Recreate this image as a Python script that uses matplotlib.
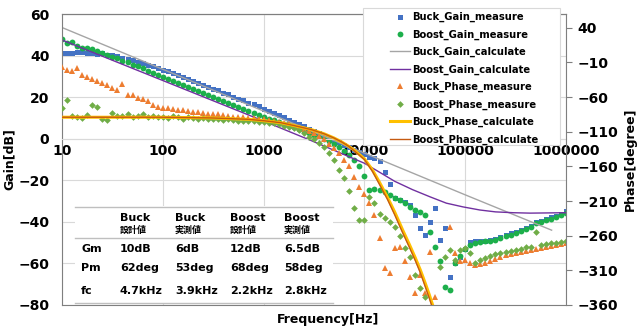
import matplotlib
matplotlib.use("Agg")
import matplotlib.pyplot as plt
import numpy as np
from matplotlib.patches import Rectangle
from matplotlib.lines import Line2D

plt.rcParams['font.family'] = ['DejaVu Sans', 'Noto Sans CJK JP']

# measured sweep frequencies [Hz]
freq = [10, 11.2, 12.6, 14.1, 15.8, 17.8, 20.0, 22.4, 25.1, 28.2, 31.6, 35.5, 39.8, 44.7, 50.1, 56.2, 63.1, 70.8, 79.4, 89.1,
        100, 112, 126, 141, 158, 178, 200, 224, 251, 282, 316, 355, 398, 447, 501, 562, 631, 708, 794, 891,
        1000, 1122, 1259, 1413, 1585, 1778, 1995, 2239, 2512, 2818, 3162, 3548, 3981, 4467, 5012, 5623, 6310, 7079, 7943, 8913,
        10000, 11220, 12589, 14125, 15849, 17783, 19953, 22387, 25119, 28184, 31623, 35481, 39811, 44668, 50119, 56234, 63096, 70795, 79433, 89125,
        100000, 112202, 125893, 141254, 158489, 177828, 199526, 223872, 251189, 281838, 316228, 354813, 398107, 446684, 501187, 562341,
        630957, 707946, 794328, 891251, 1000000]

buck_gain_meas = [41.0, 41.2, 41.0, 41.5, 41.8, 41.3, 41.0, 40.6, 41.2, 40.5, 40.2, 39.6, 39.0, 38.3, 37.7, 37.0, 36.3, 35.5, 34.8, 34.0,
                  33.2, 32.4, 31.5, 30.6, 29.7, 28.8, 27.9, 27.0, 26.0, 25.1, 24.1, 23.2, 22.2, 21.3, 20.3, 19.3, 18.4, 17.4, 16.5, 15.5,
                  14.5, 13.5, 12.5, 11.4, 10.3, 9.2, 8.1, 7.0, 5.9, 4.8, 3.7, 2.6, 1.5, 0.4, -0.7, -1.8, -2.9, -4.0, -5.2, -6.4,
                  -7.5, -8.6, -9.5, -10.5, -15.9, -22.0, -28.7, -29.5, -30.5, -31.9, -36.7, -43.1, -46.3, -40.0, -33.5, -48.7, -43.1, -66.4, -60.0, -56.8,
                  -53.0, -49.5, -49.3, -49.0, -49.0, -48.7, -48.2, -47.5, -46.3, -45.5, -44.8, -44.0, -43.0, -42.0, -40.0, -39.5,
                  -38.7, -37.9, -37.0, -36.0, -35.0]

boost_gain_meas = [47.8, 46.0, 46.7, 44.5, 43.5, 43.8, 43.0, 42.0, 41.4, 40.5, 39.5, 38.6, 37.6, 36.7, 35.7, 34.8, 33.8, 32.8, 31.8, 30.6,
                   29.5, 28.5, 27.6, 26.6, 25.7, 24.7, 23.8, 22.8, 21.9, 20.9, 20.0, 19.0, 18.1, 17.1, 16.2, 15.2, 14.3, 13.3, 12.4, 11.4,
                   10.5, 9.6, 8.8, 8.0, 7.2, 6.4, 5.5, 4.6, 3.7, 2.8, 1.9, 1.0, 0.0, -1.2, -2.5, -4.0, -5.8, -8.0, -10.0, -13.0,
                   -18.0, -24.7, -24.3, -24.7, -25.5, -27.1, -28.7, -29.5, -30.8, -32.7, -34.3, -35.1, -36.7, -45.0, -52.0, -59.0, -71.5, -73.0, -60.0, -56.5,
                   -53.0, -51.0, -50.0, -49.5, -49.3, -49.0, -48.5, -47.8, -47.0, -46.2, -45.5, -44.6, -43.6, -42.5, -40.5, -40.0,
                   -39.2, -38.4, -37.6, -36.6, -35.5]

buck_phase_meas = [-17, -21, -22, -18, -28, -31, -34, -37, -39, -43, -47, -49, -41, -57, -57, -61, -63, -66, -71, -74,
                   -75, -76, -77, -78, -79, -80, -81, -82, -83, -84, -85, -85, -86, -87, -88, -88, -89, -90, -90, -91,
                   -92, -93, -94, -96, -97, -99, -101, -103, -106, -109, -112, -116, -121, -127, -133, -140, -150, -160, -175, -190,
                   -200, -213, -230, -264, -307, -314, -278, -276, -297, -319, -343, -317, -343, -283, -348, np.nan, np.nan, -247, -285, -297,
                   -295, -300, -302, -301, -299, -296, -293, -290, -288, -287, -285, -284, -282, -281, -279, -278,
                   -277, -275, -274, -272, -271]

boost_phase_meas = [-76, -64, -87, -88, -90, -86, -71, -74, -91, -93, -83, -87, -87, -85, -88, -87, -84, -88, -87, -89,
                    -88, -90, -87, -89, -91, -89, -90, -92, -90, -91, -92, -91, -93, -92, -93, -94, -94, -95, -95, -96,
                    -96, -97, -98, -99, -101, -103, -105, -108, -112, -117, -121, -126, -132, -141, -151, -165, -177, -196, -220, -237,
                    -237, -204, -213, -228, -235, -240, -247, -261, -278, -291, -317, -335, -349, np.nan, np.nan, -305, -290, -281, -295, -281,
                    -278, -285, -300, -295, -292, -289, -287, -285, -283, -282, -280, -279, -277, -276, -254, -273,
                    -272, -271, -270, -269, -267]

# calculated curves
buck_gain_calc_f = [10, 100, 1000, 10000, 100000, 720000]
buck_gain_calc = [53.5, 33.4, 13.3, -6.9, -27.0, -44.0]

boost_gain_calc_f = [10, 100, 1000, 3000, 10000, 14000, 20000, 30000, 45000, 65000, 95000, 140000, 200000, 300000, 440000, 1000000]
boost_gain_calc = [47.5, 28.0, 8.5, -1.0, -11.8, -16.0, -20.5, -24.5, -28.0, -31.0, -32.8, -34.3, -35.2, -35.6, -35.8, -35.6]

phase_calc_f = [10, 100, 300, 700, 1000, 1500, 2000, 3000, 4000, 5000, 6000, 7000, 8000, 10000, 12000, 14000,
                17000, 20000, 24000, 28000, 32000, 36000, 40000, 44000, 48000]
buck_phase_calc = [-89, -89, -90, -92, -94, -97, -101, -107, -113, -119, -125, -131, -137, -149, -165, -182,
                   -205, -226, -252, -273, -292, -310, -328, -345, -362]
boost_phase_calc = [-89, -89, -90, -92, -94, -97, -101, -107, -113, -119, -125, -131, -138, -150, -167, -185,
                    -208, -230, -256, -277, -296, -314, -333, -350, -367]

# table
tbl_cols = [("Buck", "設計値"), ("Buck", "実測値"), ("Boost", "設計値"), ("Boost", "実測値")]
tbl_rows = ["Gm", "Pm", "fc"]
tbl_vals = [["10dB", "6dB", "12dB", "6.5dB"],
            ["62deg", "53deg", "68deg", "58deg"],
            ["4.7kHz", "3.9kHz", "2.2kHz", "2.8kHz"]]

W, H = 637, 327
fig = plt.figure(figsize=(W / 100, H / 100), dpi=100)
ax = fig.add_axes([62 / W, 22 / H, 504 / W, 291 / H])
ax2 = ax.twinx()

frame_c = '#7F7F7F'
grid_c = '#D9D9D9'

ax.set_xscale('log')
ax.set_xlim(10, 1e6)
ax.set_ylim(-80, 60)
ax2.set_ylim(-360, 60)

ax.set_yticks(range(-80, 61, 20))
ax2.set_yticks(range(-360, 41, 50))
ax.set_xticks([10, 100, 1000, 10000, 100000, 1000000])
ax.set_xticklabels(['10', '100', '1000', '10000', '100000', '1000000'])
ax.xaxis.set_minor_locator(matplotlib.ticker.NullLocator())
ax.grid(True, color=grid_c, lw=0.8)
ax.set_axisbelow(True)

ax.spines['bottom'].set_position(('data', 0))
ax.spines['bottom'].set_color(grid_c)
ax.spines['right'].set_visible(False)
ax.spines['left'].set_color(frame_c)
ax.spines['top'].set_color(frame_c)
ax2.spines['left'].set_visible(False)
for s in ['bottom', 'right', 'top']:
    ax2.spines[s].set_color(frame_c)

ax.tick_params(axis='x', length=0, pad=4, labelsize=10)
ax.tick_params(axis='y', length=0, pad=9, labelsize=10)
ax2.tick_params(axis='y', length=4, width=0.8, color=frame_c, pad=4, labelsize=10)
for lab in ax.get_xticklabels() + ax.get_yticklabels() + ax2.get_yticklabels():
    lab.set_fontweight('bold')

ax.set_ylabel('Gain[dB]', fontsize=9, fontweight='bold', labelpad=2)
ax2.set_ylabel('Phase[degree]', fontsize=9, fontweight='bold', labelpad=4)
fig.text(328 / W, 1 - 320 / H, 'Frequency[Hz]', ha='center', va='center', fontsize=9, fontweight='bold')

# gain series
h1, = ax.plot(freq, buck_gain_meas, 's', color='#4472C4', ms=3.6, mew=0, label='Buck_Gain_measure')
h2, = ax.plot(freq, boost_gain_meas, 'o', color='#1DAF4B', ms=4.2, mew=0, label='Boost_Gain_measure')
h3, = ax.plot(buck_gain_calc_f, buck_gain_calc, '-', color='#A5A5A5', lw=1.0, label='Buck_Gain_calculate')
h4, = ax.plot(boost_gain_calc_f, boost_gain_calc, '-', color='#7030A0', lw=1.0, label='Boost_Gain_calculate')

# phase series
h5, = ax2.plot(freq, buck_phase_meas, '^', color='#ED7D31', ms=4.5, mew=0, label='Buck_Phase_measure')
h6, = ax2.plot(freq, boost_phase_meas, 'D', color='#70AD47', ms=3.4, mew=0, label='Boost_Phase_measure')
h7, = ax2.plot(phase_calc_f, buck_phase_calc, '-', color='#FFC000', lw=2.2, label='Buck_Phase_calculate')
h8, = ax2.plot(phase_calc_f, boost_phase_calc, '-', color='#C55A11', lw=1.0, label='Boost_Phase_calculate')

# legend
ax2.add_patch(Rectangle((363 / W, 1 - 145 / H), 197 / W, 137 / H, transform=fig.transFigure,
                        facecolor='white', edgecolor=grid_c, lw=0.8, zorder=10, clip_on=False))
handles = [h1, h2, h3, h4, h5, h6, h7, h8]
leg = ax2.legend(handles, [h.get_label() for h in handles], loc='upper left',
                 bbox_to_anchor=(390 / W, 1 - 12 / H), bbox_transform=fig.transFigure,
                 frameon=False, fontsize=7.2, handlelength=2.0, handletextpad=0.25,
                 labelspacing=0.72, borderpad=0, borderaxespad=0)
leg.set_zorder(11)
for t in leg.get_texts():
    t.set_fontweight('bold')

# table
def axx(px):
    return (px - 62) / 504


def axy(py):
    return (305 - py) / 291


ax2.add_patch(Rectangle((axx(75), axy(304)), axx(333) - axx(75), axy(206) - axy(304),
                        transform=ax2.transAxes, facecolor='white', edgecolor='none', zorder=10))
for py in [207, 238, 303]:
    ax2.add_line(Line2D([axx(75), axx(333)], [axy(py), axy(py)], transform=ax2.transAxes,
                        color='#BFBFBF', lw=1.0, zorder=11))
col_x = [120, 175, 230, 284]
for cx, (top, bottom) in zip(col_x, tbl_cols):
    ax2.text(axx(cx), axy(218), top, transform=ax2.transAxes, fontsize=8, fontweight='bold',
             ha='left', va='center', zorder=12)
    ax2.text(axx(cx), axy(230.5), bottom, transform=ax2.transAxes, fontsize=6.5,
             family=['Noto Sans CJK JP', 'DejaVu Sans'], fontweight='bold',
             ha='left', va='center', zorder=12)
row_y = [249, 268, 291]
for ry, name, vals in zip(row_y, tbl_rows, tbl_vals):
    ax2.text(axx(81), axy(ry), name, transform=ax2.transAxes, fontsize=8, fontweight='bold',
             ha='left', va='center', zorder=12)
    for cx, v in zip(col_x, vals):
        ax2.text(axx(cx), axy(ry), v, transform=ax2.transAxes, fontsize=8, fontweight='bold',
                 ha='left', va='center', zorder=12)

fig.savefig('out.png', dpi=100)
